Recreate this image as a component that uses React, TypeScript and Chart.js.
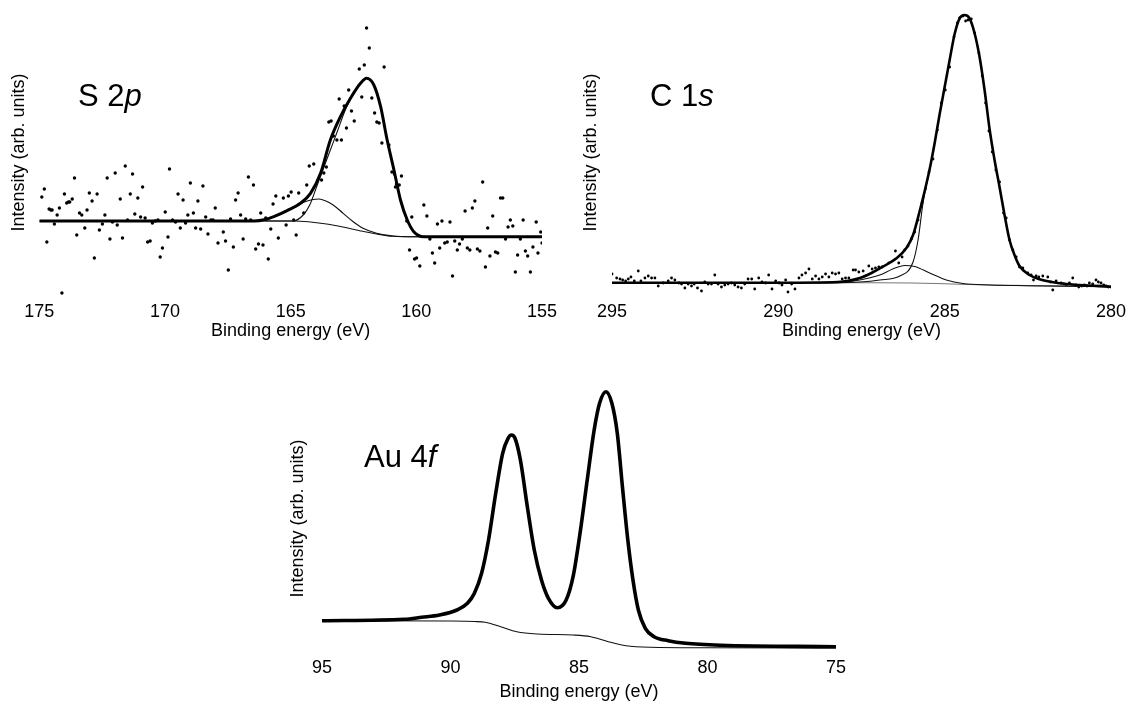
import { useEffect, useRef } from "react";
import { Chart, registerables } from "chart.js";
Chart.register(...registerables);

const FONT = "'Liberation Sans', Arial, Helvetica, sans-serif";

// ---------------- S 2p ----------------
const s2pDataE = [
  174.90,174.80,174.70,174.61,174.54,174.49,174.40,174.29,174.20,174.10,174.00,173.91,173.84,173.79,173.69,173.60,173.51,173.40,173.31,173.19,173.10,173.01,172.90,172.81,172.70,172.61,172.49,172.39,172.30,172.19,172.09,171.98,171.90,171.78,171.69,171.58,171.49,171.38,171.29,171.20,171.08,170.97,170.89,170.79,170.69,170.59,170.50,170.39,170.28,170.19,170.10,169.99,169.88,169.82,
  169.70,169.58,169.48,169.39,169.28,169.18,169.09,168.99,168.87,168.78,168.69,168.58,168.49,168.38,168.29,168.17,168.09,168.00,167.89,167.68,167.59,167.48,167.39,167.28,167.19,167.09,166.99,166.89,166.79,166.68,166.59,166.48,166.39,166.28,166.19,166.10,165.99,165.89,165.79,165.70,165.59,165.49,165.29,165.18,165.09,164.98,164.88,164.78,164.68,
  164.48,164.36,164.26,164.08,163.77,163.68,163.58,163.48,163.39,163.30,163.16,163.07,162.98,162.87,162.78,162.69,162.58,162.47,162.27,162.17,162.07,161.98,161.87,161.77,161.66,161.57,161.48,161.37,161.28,161.09,160.97,160.87,160.83,160.79,160.68,160.59,160.38,160.27,160.18,160.07,159.99,159.86,159.70,
  159.58,159.46,159.36,159.27,159.16,159.07,158.98,158.87,158.77,158.66,158.56,158.47,158.37,158.28,158.17,158.06,157.97,157.87,157.77,157.67,157.57,157.47,157.36,157.25,157.16,157.07,156.96,156.85,156.76,156.65,156.56,156.45,156.35,156.26,156.16,156.06,155.97,155.86,155.75,155.66,155.57,155.46,155.36,155.23,155.16,155.05,155.00,
];
const s2pDataI = [
  98,106,53,86,85,85,71,80,87,2,101,92,93,93,96,117,60,82,80,67,85,102,94,37,101,65,71,80,117,56,73,122,70,96,57,129,75,101,121,81,97,78,108,77,53,54,72,74,75,38,47,83,58,126,
  75,73,101,67,95,72,80,112,82,67,94,66,109,78,61,75,75,87,52,63,54,25,76,48,95,102,80,56,76,118,75,110,46,51,82,50,77,36,66,91,99,57,97,70,99,103,75,60,102,
  82,110,129,131,115,122,128,173,174,159,155,196,155,189,167,205,184,174,226,198,230,267,247,197,182,173,172,152,228,150,123,121,108,111,110,119,74,45,78,36,37,29,90,
  79,56,42,32,71,47,74,52,53,73,19,54,45,51,56,84,47,45,87,94,46,44,113,28,67,39,79,43,42,97,97,56,68,75,69,23,40,56,75,44,39,23,48,73,42,63,52,
];
const s2pEnvE = [175,166.45,166.0,165.67,165.14,164.61,164.21,163.81,163.42,163.02,162.62,162.22,161.98,161.69,161.42,161.16,160.89,160.63,160.36,160.10,159.70,155];
const s2pEnvI = [74,74,75.5,78.3,84.3,91.7,101.7,121.7,155,178.3,196.7,211.7,216.7,210,188.3,155,125,95,75,63.3,58.3,58.3];
const s2pMainE = [166.0,164.90,164.50,164.24,163.97,163.57,163.17,162.78,162.38,162.12,161.98];
const s2pMainI = [74,74,80,90,108,135,161.7,187.7,206.7,215,216.7];
const s2pMinorE = [166.45,166.0,165.67,165.14,164.83,164.5,164.11,163.87,163.6,163.31,162.91,162.51,162.12,161.58,160.92,160.26,159.8];
const s2pMinorI = [74,75.5,78,84,88,92.5,95.5,96,94,90,81.7,73.3,66.7,61.7,59,58.3,58.3];
const s2pBgE = [175,164.9,164.3,163.57,162.92,162.25,161.58,160.92,160.3,159.85,155];
const s2pBgI = [74,74,73.3,71,68,64.3,61,58.7,58.3,58.3,58.3];

// ---------------- C 1s ----------------
const c1sDataE = [
  295.00,294.86,294.76,294.68,294.59,294.51,294.43,294.33,294.21,294.13,294.01,293.91,293.81,293.71,293.61,293.46,293.31,293.21,293.11,292.99,292.91,292.81,292.71,292.61,292.53,292.43,292.31,292.21,292.11,292.01,291.91,291.81,291.71,291.61,291.51,291.41,291.31,291.21,291.11,291.01,290.91,290.80,290.71,290.59,290.49,290.38,290.29,290.19,290.08,289.98,289.89,289.78,289.71,289.60,289.50,289.38,289.29,289.18,289.08,288.98,288.88,288.78,288.68,288.58,288.48,288.38,288.28,288.18,288.08,287.98,287.88,287.75,287.68,287.58,287.45,287.28,287.18,287.08,286.98,286.88,286.68,286.48,286.38,286.28,
  286.20,286.10,286.00,285.90,285.80,285.68,285.58,285.47,285.35,285.22,285.10,284.98,284.85,284.72,284.62,284.55,284.45,284.37,284.30,284.20,284.10,283.97,283.87,283.77,283.67,283.57,283.46,283.35,283.23,283.15,283.05,282.95,282.85,282.75,282.65,282.50,282.40,282.33,282.25,282.17,282.05,281.90,281.82,281.75,281.65,281.50,281.42,281.35,281.25,281.15,281.05,280.97,280.88,280.80,280.72,280.65,280.55,280.45,280.38,280.30,280.22,280.15,280.08,280.00,
];
const c1sDataI = [
  21,17,16,15,14,16,18,14,24,14,17,19,17,17,9,12,14,17,15,12,11,7,11,9,11,7,4,13,11,11,20,11,8,10,11,12,10,8,7,11,16,16,6,17,13,12,20,6,14,12,10,15,3,11,6,17,20,22,26,16,19,16,18,21,18,22,21,22,16,17,17,25,25,23,24,29,26,27,28,28,32,44,32,38,
  45,49,56,63,75,92,106,123,136,165,192,205,228,258,272,277,279,274,275,276,262,242,219,192,164,143,125,113,82,77,55,45,38,28,27,22,20,15,19,18,19,18,13,5,14,12,11,10,12,17,10,8,9,10,9,12,11,15,13,12,10,9,8,8,
];
const c1sEnvE = [295,289.95,288.21,287.55,287.20,286.95,286.45,286.15,285.95,285.75,285.6,285.45,285.3,285.15,285.0,284.85,284.7,284.55,284.4,284.25,284.1,283.95,283.8,283.65,283.5,283.35,283.2,283.05,282.9,282.75,282.45,282.15,281.55,280.95,280.0];
const c1sEnvI = [12.3,12.3,13,17,22,26.7,36.7,47,60,84,104,126,152,181,208,235,261,276.7,280,276.7,261.7,238,205,166,135,108,80,55,40,29,20,15.7,11.7,10,8.3];
const c1sMainE = [295,288.2,287.55,286.95,286.35,285.95,285.80,285.65,285.45,285.3];
const c1sMainI = [12.3,12.3,13,15,19,33,55,92,126,152];
const c1sMinorE = [289,288.15,287.55,286.95,286.56,286.20,285.90,285.45,284.95,284.45,283.65,282.5,280.0];
const c1sMinorI = [12.3,12.5,15,20,26,29.5,28.5,22,15,11.5,10,9.3,8.3];
const c1sBgE = [295,287,286,285,284,283,282,281,280];
const c1sBgI = [12.3,12.2,12,11.2,10.3,9.6,9.1,8.7,8.3];

// ---------------- Au 4f ----------------
const au4fEnvE = [95,91.80,91.12,90.43,89.75,89.34,89.07,88.79,88.52,88.24,87.97,87.76,87.63,87.49,87.28,87.01,86.74,86.46,86.19,85.84,85.50,85.23,84.96,84.68,84.41,84.20,83.95,83.72,83.51,83.31,83.10,82.90,82.69,82.42,82.08,81.53,80.85,79.47,75];
const au4fEnvI = [36.3,37.7,39.7,42,47,53.7,63.7,83.7,117,163.7,203.7,218.7,222,218.7,197,150.3,107,77,58.7,49.3,57,80.3,123.7,177,227,253.7,265.3,253.7,223.7,170.3,117,77,47,28.7,20.3,16.3,13.7,11.7,10.3];
const au4fBgE = [95,90.05,89.05,88.65,88.05,87.42,86.60,85.23,84.54,83.86,83.17,82.21,80.05,75];
const au4fBgI = [36.3,36,35.5,34.7,30.3,25.3,23,22,20.3,15.3,11.3,9.7,9.2,9];

const xTicksStep = 5;
const xTitle = "Binding energy (eV)";
const yTitle = "Intensity (arb. units)";

const pts = (xs: number[], ys: number[]) => xs.map((x, i) => ({ x, y: ys[i] }));

const lineDs = (xs: number[], ys: number[], width: number, color: string) => ({
  data: pts(xs, ys),
  showLine: true,
  borderColor: color,
  borderWidth: width,
  pointRadius: 0,
  fill: false,
  cubicInterpolationMode: "monotone" as const,
});

const dotDs = (xs: number[], ys: number[], r: number) => ({
  data: pts(xs, ys),
  showLine: false,
  pointRadius: r,
  pointBorderWidth: 0,
  pointBackgroundColor: "#000",
  backgroundColor: "#000",
  borderColor: "#000",
});

const panelLabel = {
  id: "panelLabel",
  afterDraw(chart: any, _args: any, opts: any) {
    const ctx = chart.ctx as CanvasRenderingContext2D;
    ctx.save();
    ctx.fillStyle = "#000";
    ctx.textBaseline = "alphabetic";
    ctx.textAlign = "left";
    ctx.font = `${opts.size}px ${FONT}`;
    ctx.fillText(opts.main, opts.x, opts.y);
    const w = ctx.measureText(opts.main).width;
    ctx.font = `italic ${opts.size}px ${FONT}`;
    ctx.fillText(opts.italic, opts.x + w, opts.y);
    ctx.restore();
  },
};

type Panel = {
  key: string;
  left: number; top: number; w: number; h: number;
  pad: { left: number; right: number; top: number; bottom: number };
  yPad: { top: number; bottom: number };
  xTitlePad: { top: number; bottom: number };
  xMin: number; xMax: number; yMax: number;
  tickPad: number;
  label: { main: string; italic: string; x: number; y: number; size: number };
  datasets: any[];
};

const panels: Panel[] = [
  {
    key: "s2p", left: 0, top: 0, w: 565, h: 342,
    pad: { left: 0, right: 0, top: 10, bottom: 0 },
    yPad: { top: 8.7, bottom: 9.0 },
    xTitlePad: { top: -8.6, bottom: 0 },
    xMin: 155, xMax: 175, yMax: 285, tickPad: 8,
    label: { main: "S 2", italic: "p", x: 78, y: 106, size: 31 },
    datasets: [
      lineDs(s2pEnvE, s2pEnvI, 3, "#000"),
      lineDs(s2pMainE, s2pMainI, 1.1, "#111"),
      lineDs(s2pMinorE, s2pMinorI, 1.1, "#111"),
      lineDs(s2pBgE, s2pBgI, 1.1, "#111"),
      dotDs(s2pDataE, s2pDataI, 1.7),
    ],
  },
  {
    key: "c1s", left: 560, top: 0, w: 574, h: 342,
    pad: { left: 10, right: 0, top: 10, bottom: 0 },
    yPad: { top: 10.2, bottom: 10.2 },
    xTitlePad: { top: -8.6, bottom: 0 },
    xMin: 280, xMax: 295, yMax: 285, tickPad: 8,
    label: { main: "C 1", italic: "s", x: 90, y: 106, size: 31 },
    datasets: [
      lineDs(c1sEnvE, c1sEnvI, 2.6, "#000"),
      lineDs(c1sMainE, c1sMainI, 1.1, "#111"),
      lineDs(c1sMinorE, c1sMinorI, 1.1, "#111"),
      lineDs(c1sBgE, c1sBgI, 1.1, "#777"),
      dotDs(c1sDataE, c1sDataI, 1.4),
    ],
  },
  {
    key: "au4f", left: 280, top: 370, w: 568, h: 333,
    pad: { left: 0, right: 0, top: 10, bottom: 0 },
    yPad: { top: 7.2, bottom: 13.2 },
    xTitlePad: { top: 2.4, bottom: 0 },
    xMin: 75, xMax: 95, yMax: 277, tickPad: 2,
    label: { main: "Au 4", italic: "f", x: 84, y: 97, size: 31 },
    datasets: [
      lineDs(au4fEnvE, au4fEnvI, 3.6, "#000"),
      lineDs(au4fBgE, au4fBgI, 1.1, "#111"),
    ],
  },
];

function buildConfig(p: Panel): any {
  return {
    type: "line",
    data: { datasets: p.datasets },
    options: {
      responsive: false,
      animation: false,
      devicePixelRatio: 1,
      layout: { padding: p.pad },
      plugins: {
        legend: { display: false },
        tooltip: { enabled: false },
        panelLabel: p.label,
      },
      scales: {
        x: {
          type: "linear",
          reverse: true,
          min: p.xMin,
          max: p.xMax,
          ticks: {
            stepSize: xTicksStep,
            color: "#000",
            padding: p.tickPad,
            maxRotation: 0,
            font: { family: FONT, size: 18, lineHeight: 1 },
          },
          grid: { display: false, drawTicks: false },
          border: { display: false },
          title: {
            display: true,
            text: xTitle,
            color: "#000",
            padding: p.xTitlePad,
            font: { family: FONT, size: 18, lineHeight: 1.2 },
          },
        },
        y: {
          type: "linear",
          min: 0,
          max: p.yMax,
          ticks: { display: false },
          grid: { display: false, drawTicks: false },
          border: { display: false },
          title: {
            display: true,
            text: yTitle,
            color: "#000",
            padding: p.yPad,
            font: { family: FONT, size: 18, lineHeight: 1.2 },
          },
        },
      },
    },
    plugins: [panelLabel],
  };
}

function PanelChart({ p }: { p: Panel }) {
  const ref = useRef<HTMLCanvasElement>(null);
  useEffect(() => {
    if (!ref.current) return;
    const chart = new Chart(ref.current, buildConfig(p));
    return () => chart.destroy();
  }, [p]);
  return (
    <canvas
      ref={ref}
      width={p.w}
      height={p.h}
      style={{ position: "absolute", left: p.left, top: p.top, width: p.w, height: p.h }}
    />
  );
}

export default function App() {
  return (
    <div
      style={{
        position: "absolute",
        left: 0,
        top: 0,
        width: 1129,
        height: 717,
        background: "#fff",
        overflow: "hidden",
      }}
    >
      {panels.map((p) => (
        <PanelChart key={p.key} p={p} />
      ))}
    </div>
  );
}
